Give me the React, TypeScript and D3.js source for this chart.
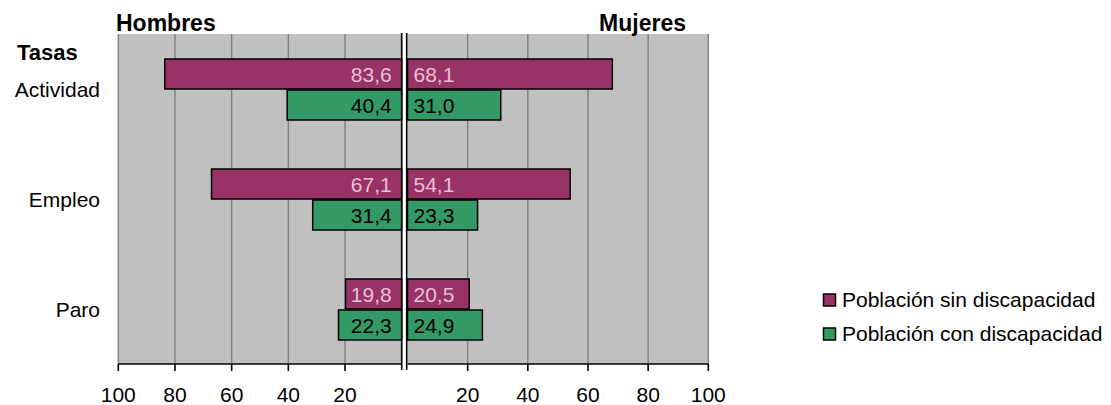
import React from "react";
import * as d3 from "d3";

const categories = ["Actividad", "Empleo", "Paro"];
const hombresSin = [83.6, 67.1, 19.8];
const hombresCon = [40.4, 31.4, 22.3];
const mujeresSin = [68.1, 54.1, 20.5];
const mujeresCon = [31.0, 23.3, 24.9];
const tickValues = [20, 40, 60, 80, 100];
const seriesNames = ["Población sin discapacidad", "Población con discapacidad"];
const seriesColors = ["#993366", "#339966"];
const labelColors = ["#e8c0d6", "#000000"];

const FONT = "Arial, 'Liberation Sans', sans-serif";
const fmt = (v: number) => v.toFixed(1).replace(".", ",");

export default function App() {
  const top = 34;
  const bottom = 364;
  const xL = d3.scaleLinear().domain([0, 100]).range([401.7, 118.3]);
  const xR = d3.scaleLinear().domain([0, 100]).range([407.5, 708.3]);
  const y = d3.scaleBand<string>().domain(categories).range([top, bottom]);
  const barH = 30;
  const offs = [25, 56];

  const leftSeries = [hombresSin, hombresCon];
  const rightSeries = [mujeresSin, mujeresCon];

  return (
    <svg width={1111} height={405} style={{ position: "absolute", left: 0, top: 0, background: "#fff" }}>
      {/* plot backgrounds */}
      <rect x={xL(100)} y={top} width={xL(0) - xL(100)} height={bottom - top} fill="#c0c0c0" />
      <rect x={xR(0)} y={top} width={xR(100) - xR(0)} height={bottom - top} fill="#c0c0c0" />
      {/* gridlines */}
      {tickValues.map((t) => (
        <g key={"g" + t}>
          <line x1={xL(t)} x2={xL(t)} y1={top} y2={bottom} stroke="#808080" strokeWidth={1.4} />
          <line x1={xR(t)} x2={xR(t)} y1={top} y2={bottom} stroke="#808080" strokeWidth={1.4} />
        </g>
      ))}
      {/* bars */}
      {categories.map((c, i) => (
        <g key={c}>
          {leftSeries.map((s, k) => (
            <g key={"l" + k}>
              <rect
                x={xL(s[i])}
                y={(y(c) as number) + offs[k]}
                width={xL(0) - xL(s[i])}
                height={barH}
                fill={seriesColors[k]}
                stroke="#000"
                strokeWidth={1.5}
              />
              <text
                x={xL(0) - 10}
                y={(y(c) as number) + offs[k] + barH / 2 + 7.5}
                textAnchor="end"
                fontFamily={FONT}
                fontSize={21}
                fill={labelColors[k]}
              >
                {fmt(s[i])}
              </text>
            </g>
          ))}
          {rightSeries.map((s, k) => (
            <g key={"r" + k}>
              <rect
                x={xR(0)}
                y={(y(c) as number) + offs[k]}
                width={xR(s[i]) - xR(0)}
                height={barH}
                fill={seriesColors[k]}
                stroke="#000"
                strokeWidth={1.5}
              />
              <text
                x={xR(0) + 6}
                y={(y(c) as number) + offs[k] + barH / 2 + 7.5}
                textAnchor="start"
                fontFamily={FONT}
                fontSize={21}
                fill={labelColors[k]}
              >
                {fmt(s[i])}
              </text>
            </g>
          ))}
          <text
            x={100}
            y={(y(c) as number) + y.bandwidth() / 2 + 8}
            textAnchor="end"
            fontFamily={FONT}
            fontSize={21}
            fill="#000"
          >
            {c}
          </text>
        </g>
      ))}
      {/* vertical axis lines */}
      <line x1={xL(0)} x2={xL(0)} y1={top - 1} y2={bottom + 6} stroke="#000" strokeWidth={1.6} />
      <line x1={xR(0) - 0.8} x2={xR(0) - 0.8} y1={top - 1} y2={bottom + 6} stroke="#000" strokeWidth={1.6} />
      {/* horizontal axis lines */}
      <line x1={xL(100)} x2={xL(0)} y1={bottom} y2={bottom} stroke="#000" strokeWidth={1.6} />
      <line x1={xR(0)} x2={xR(100)} y1={bottom} y2={bottom} stroke="#000" strokeWidth={1.6} />
      {tickValues.map((t) => (
        <g key={"t" + t}>
          <line x1={xL(t)} x2={xL(t)} y1={bottom} y2={bottom + 7} stroke="#000" strokeWidth={1.6} />
          <line x1={xR(t)} x2={xR(t)} y1={bottom} y2={bottom + 7} stroke="#000" strokeWidth={1.6} />
          <text x={xL(t)} y={402} textAnchor="middle" fontFamily={FONT} fontSize={21} fill="#000">
            {t}
          </text>
          <text x={xR(t)} y={402} textAnchor="middle" fontFamily={FONT} fontSize={21} fill="#000">
            {t}
          </text>
        </g>
      ))}
      {/* titles */}
      <text x={116} y={31} fontFamily={FONT} fontSize={23} fontWeight="bold" fill="#000">Hombres</text>
      <text x={686} y={31} textAnchor="end" fontFamily={FONT} fontSize={23} fontWeight="bold" fill="#000">Mujeres</text>
      <text x={17} y={60} fontFamily={FONT} fontSize={22} fontWeight="bold" fill="#000">Tasas</text>
      {/* legend */}
      {seriesNames.map((n, k) => (
        <g key={n}>
          <rect x={823.5} y={294 + k * 34} width={12} height={12} fill={seriesColors[k]} stroke="#000" strokeWidth={1.5} />
          <text x={842} y={307 + k * 34} fontFamily={FONT} fontSize={21} fill="#000">{n}</text>
        </g>
      ))}
    </svg>
  );
}
